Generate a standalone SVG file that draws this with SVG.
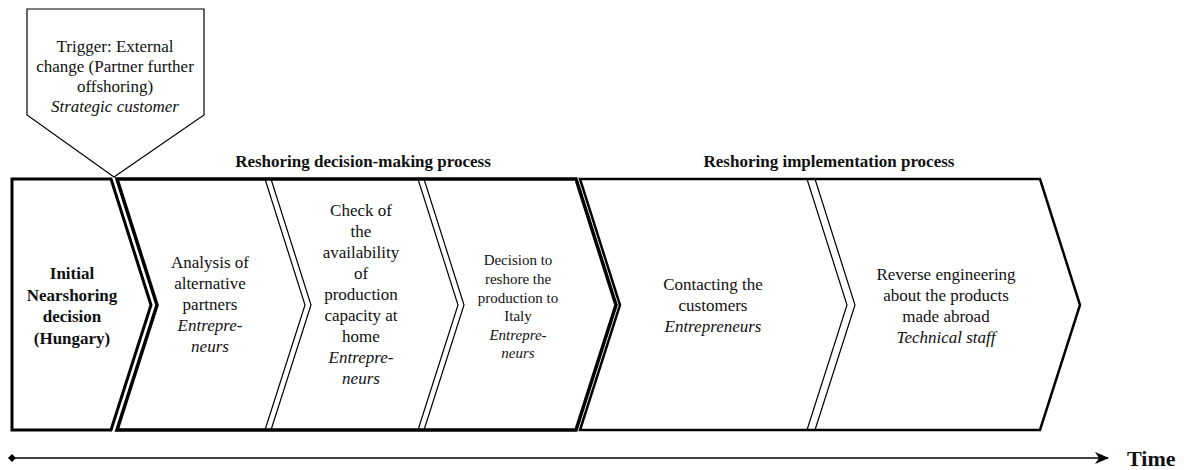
<svg xmlns="http://www.w3.org/2000/svg" width="1184" height="470" viewBox="0 0 1184 470">
  <style>
    .frame { fill: #fff; stroke: #000; stroke-linejoin: miter; }
    .sep { fill: none; stroke: #000; stroke-width: 1.2; }
  </style>
  <defs>
    <marker id="arrow" viewBox="0 0 14 12" refX="13" refY="6" markerWidth="14" markerHeight="12" markerUnits="userSpaceOnUse" orient="auto">
      <path d="M0,0 L14,6 L0,12 L4,6 Z" fill="#000"/>
    </marker>
    <marker id="dot" viewBox="0 0 8 8" refX="4" refY="4" markerWidth="8" markerHeight="8" markerUnits="userSpaceOnUse">
      <path d="M4,0 L8,4 L4,8 L0,4 Z" fill="#000"/>
    </marker>
  </defs>

  <!-- trigger callout -->
  <g id="trigger" font-family="Liberation Serif, Times New Roman, serif" font-size="17" text-anchor="middle" fill="#111">
    <polygon class="frame" style="stroke-width:1.2" points="27,9 204,9 204,115 114,177 27,115"/>
    <text x="115" y="52">Trigger: External</text>
    <text x="115" y="72">change (Partner further</text>
    <text x="115" y="92">offshoring)</text>
    <text x="115" y="112" font-style="italic">Strategic customer</text>
  </g>

  <!-- phase headings -->
  <g id="headings" font-family="Liberation Serif, Times New Roman, serif" font-size="17" font-weight="bold" text-anchor="middle" fill="#111">
    <text x="363" y="167">Reshoring decision-making process</text>
    <text x="829" y="167">Reshoring implementation process</text>
  </g>

  <!-- initial decision -->
  <g id="initial" font-family="Liberation Serif, Times New Roman, serif" font-size="17" font-weight="bold" text-anchor="middle" fill="#111">
    <polygon class="frame" style="stroke-width:3" points="12,179 111,179 151,305 111,430 12,430"/>
    <text x="72" y="279">Initial</text>
    <text x="72" y="300.5">Nearshoring</text>
    <text x="72" y="322">decision</text>
    <text x="72" y="343.5">(Hungary)</text>
  </g>

  <!-- decision-making process frame -->
  <g id="decision-process">
    <polygon class="frame" style="stroke-width:3.5" points="117,179 576,179 616,305 576,430 117,430 157,305"/>
  </g>
  <g id="analysis" font-family="Liberation Serif, Times New Roman, serif" font-size="17" text-anchor="middle" fill="#111">
    <text x="210" y="268">Analysis of</text>
    <text x="210" y="289">alternative</text>
    <text x="210" y="310">partners</text>
    <text x="210" y="331" font-style="italic">Entrepre-</text>
    <text x="210" y="352" font-style="italic">neurs</text>
  </g>
  <g id="check" font-family="Liberation Serif, Times New Roman, serif" font-size="17" text-anchor="middle" fill="#111">
    <text x="361" y="216">Check of</text>
    <text x="361" y="237">the</text>
    <text x="361" y="258">availability</text>
    <text x="361" y="279">of</text>
    <text x="361" y="300">production</text>
    <text x="361" y="321">capacity at</text>
    <text x="361" y="342">home</text>
    <text x="361" y="363" font-style="italic">Entrepre-</text>
    <text x="361" y="384" font-style="italic">neurs</text>
  </g>
  <g id="decision" font-family="Liberation Serif, Times New Roman, serif" font-size="15" text-anchor="middle" fill="#111">
    <text x="518" y="265">Decision to</text>
    <text x="518" y="284">reshore the</text>
    <text x="518" y="303">production to</text>
    <text x="518" y="321">Italy</text>
    <text x="518" y="340" font-style="italic">Entrepre-</text>
    <text x="518" y="358" font-style="italic">neurs</text>
  </g>

  <!-- implementation process frame -->
  <g id="implementation-process">
    <polygon class="frame" style="stroke-width:2.5" points="580,179 1040,179 1080,305 1040,430 580,430 620,305"/>
  </g>
  <g id="contacting" font-family="Liberation Serif, Times New Roman, serif" font-size="17" text-anchor="middle" fill="#111">
    <text x="713" y="290">Contacting the</text>
    <text x="713" y="311">customers</text>
    <text x="713" y="332" font-style="italic">Entrepreneurs</text>
  </g>
  <g id="reverse" font-family="Liberation Serif, Times New Roman, serif" font-size="17" text-anchor="middle" fill="#111">
    <text x="946" y="280">Reverse engineering</text>
    <text x="946" y="301">about the products</text>
    <text x="946" y="322">made abroad</text>
    <text x="946" y="343" font-style="italic">Technical staff</text>
  </g>

  <!-- step separators and time axis -->
  <g id="connectors">
    <polyline class="sep" points="265,179 305,305 265,430"/>
    <polyline class="sep" points="271,179 311,305 271,430"/>
    <polyline class="sep" points="418,179 458,305 418,430"/>
    <polyline class="sep" points="424,179 464,305 424,430"/>
    <polyline class="sep" points="807,179 847,305 807,430"/>
    <polyline class="sep" points="815,179 855,305 815,430"/>
    <line x1="12" y1="458" x2="1108" y2="458" stroke="#000" stroke-width="1.5" marker-start="url(#dot)" marker-end="url(#arrow)"/>
  </g>

  <g id="time-label">
    <text x="1127" y="466" font-family="Liberation Serif, Times New Roman, serif" font-size="22" font-weight="bold" fill="#111">Time</text>
  </g>
</svg>
